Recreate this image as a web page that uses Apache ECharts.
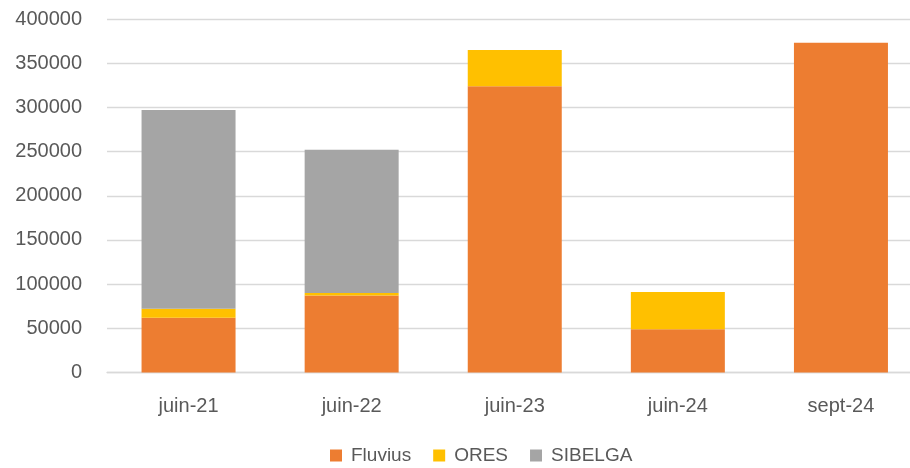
<!DOCTYPE html>
<html>
<head>
<meta charset="utf-8">
<script src="https://cdn.jsdelivr.net/npm/echarts@6/dist/echarts.min.js"></script>
<style>
  html, body { margin: 0; padding: 0; background: #fff; overflow: hidden; }
  #chart { width: 910px; height: 468px; }
</style>
</head>
<body>
<div id="chart"></div>
<script>
var categories = ['juin-21', 'juin-22', 'juin-23', 'juin-24', 'sept-24'];
var fluvius = [62000, 87000, 324000, 49000, 373000];
var ores = [10000, 3000, 41000, 42000, 0];
var sibelga = [225000, 162000, 0, 0, 0];
var yTicks = [0, 400000, 50000]; // min, max, interval

var font = 'Liberation Sans, Arial, sans-serif';
var textColor = '#595959';

var chart = echarts.init(document.getElementById('chart'));
var option = {
  animation: false,
  color: ['#ED7D31', '#FFC000', '#A5A5A5'],
  grid: {
    left: 107,
    width: 815.5,
    top: 19,
    height: 353.5,
    containLabel: false,
    outerBoundsMode: 'none'
  },
  legend: {
    top: 446,
    left: 330,
    padding: 0,
    itemWidth: 12,
    itemHeight: 12,
    itemGap: 22,
    icon: 'rect',
    textStyle: { color: textColor, fontSize: 19, fontFamily: font, padding: [0, 0, 0, 4] },
    data: ['Fluvius', 'ORES', 'SIBELGA']
  },
  xAxis: {
    type: 'category',
    data: categories,
    axisLine: { lineStyle: { color: '#d9d9d9', width: 1.3 } },
    axisTick: { show: false },
    axisLabel: { color: textColor, fontSize: 20, fontFamily: font, margin: 24 }
  },
  yAxis: {
    type: 'value',
    min: yTicks[0],
    max: yTicks[1],
    interval: yTicks[2],
    axisLine: { show: false },
    axisTick: { show: false },
    splitLine: { lineStyle: { color: '#d9d9d9', width: 1.3 } },
    axisLabel: {
      color: textColor, fontSize: 20, fontFamily: font, margin: 25,
      formatter: function (v) { return String(v); }
    }
  },
  series: [
    { name: 'Fluvius', type: 'bar', stack: 'total', barWidth: 94, data: fluvius },
    { name: 'ORES', type: 'bar', stack: 'total', barWidth: 94, data: ores },
    { name: 'SIBELGA', type: 'bar', stack: 'total', barWidth: 94, data: sibelga }
  ]
};
chart.setOption(option);
</script>
</body>
</html>
